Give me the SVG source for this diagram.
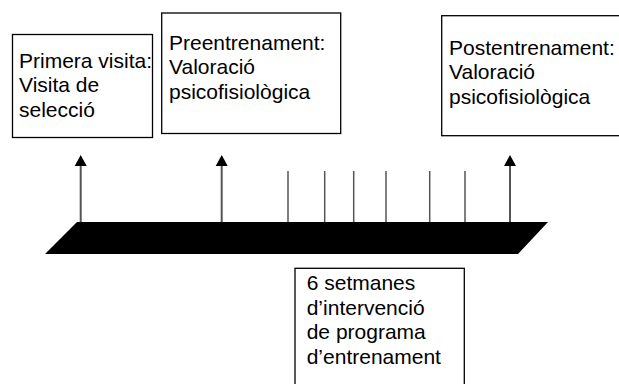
<svg xmlns="http://www.w3.org/2000/svg" width="619" height="384" viewBox="0 0 619 384">
<style>
.box{fill:#fff;stroke:#000;stroke-width:1.3}
.t{font-family:"Liberation Sans",Arial,Helvetica,sans-serif;font-size:21px;fill:#000}
.tick{stroke:#555;stroke-width:1.5}
.arr{stroke:#555;stroke-width:2}
</style>
<defs>
<marker id="ah" markerWidth="12" markerHeight="11" refX="6" refY="11" orient="auto" markerUnits="userSpaceOnUse" viewBox="0 0 12 11">
<path d="M0,11 L6,0 L12,11 Z" fill="#000"/>
</marker>
</defs>
<g id="timeline">
<polygon points="77,222 548,222 518,254 45,254" fill="#000"/>
</g>
<g id="connectors">
<line class="arr" x1="80.7" y1="222" x2="80.7" y2="166"/>
<path d="M74.7,166 L80.7,155 L86.7,166 Z" fill="#000"/>
<line class="arr" x1="221.7" y1="222" x2="221.7" y2="166"/>
<path d="M215.7,166 L221.7,155 L227.7,166 Z" fill="#000"/>
<line class="arr" x1="510" y1="222" x2="510" y2="166"/>
<path d="M504,166 L510,155 L516,166 Z" fill="#000"/>
<line class="tick" x1="288" y1="171" x2="288" y2="222"/>
<line class="tick" x1="324.7" y1="171" x2="324.7" y2="222"/>
<line class="tick" x1="353.7" y1="171" x2="353.7" y2="222"/>
<line class="tick" x1="386" y1="171" x2="386" y2="222"/>
<line class="tick" x1="429.7" y1="171" x2="429.7" y2="222"/>
<line class="tick" x1="465" y1="171" x2="465" y2="222"/>
</g>
<g id="node-primera">
<rect class="box" x="12.5" y="34.5" width="140" height="103"/>
<text class="t" x="19" y="67.7">Primera visita:</text>
<text class="t" x="19" y="92.2">Visita de</text>
<text class="t" x="19" y="116.7">selecció</text>
</g>
<g id="node-pre">
<rect class="box" x="161.7" y="13" width="179" height="120.5"/>
<text class="t" x="169" y="49.5">Preentrenament:</text>
<text class="t" x="169" y="74">Valoració</text>
<text class="t" x="169" y="98.5">psicofisiològica</text>
</g>
<g id="node-post">
<rect class="box" x="441.7" y="15.7" width="180" height="120"/>
<text class="t" x="449" y="54.5">Postentrenament:</text>
<text class="t" x="449" y="79">Valoració</text>
<text class="t" x="449" y="103.5">psicofisiològica</text>
</g>
<g id="node-setmanes">
<rect class="box" x="295" y="268.3" width="169.3" height="120"/>
<text class="t" x="306.7" y="290">6 setmanes</text>
<text class="t" x="306.7" y="314.5">d’intervenció</text>
<text class="t" x="306.7" y="339">de programa</text>
<text class="t" x="306.7" y="363.5">d’entrenament</text>
</g>
</svg>
